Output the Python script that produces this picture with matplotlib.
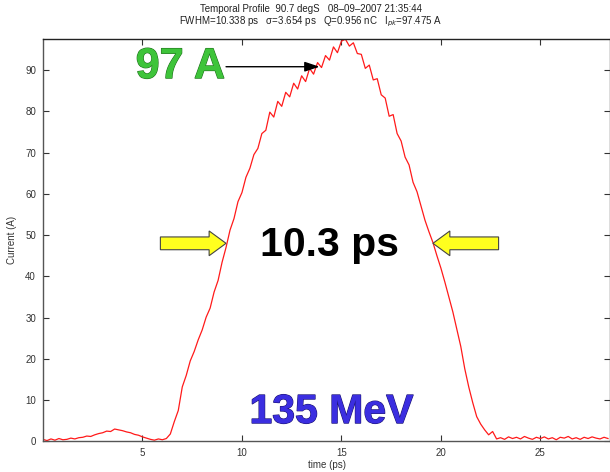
import numpy as np
import matplotlib
matplotlib.use("Agg")
import matplotlib.pyplot as plt
from matplotlib.patches import FancyArrow
import matplotlib.patheffects as pe

plt.rcParams["font.family"] = ["Liberation Sans", "DejaVu Sans"]

RED = "#ff1a1a"
GREEN = "#3ec43a"
BLUE = "#3b2ee0"
YELLOW = "#ffff1e"
AXIS_GRAY = "#555555"

# bunch current sampled every 0.2 ps
DT = 0.2
current = [
    # 0.0 - 1.8 ps baseline
    0.5, 0.2, 0.6, 0.3, 0.7,
    0.4, 0.5, 0.8, 0.6, 0.9,
    # 2.0 - 5.0 ps pre-bunch bump
    1.0, 1.3, 1.2, 1.6, 1.9,
    2.1, 2.5, 2.4, 3.0, 2.8,
    2.6, 2.3, 2.1, 1.7, 1.5,
    1.1,
    # 5.2 - 6.2 ps
    0.8, 0.5, 0.3, 0.6, 0.4,
    0.7,
    # 6.4 - 22.8 ps main pulse
    1.8, 4.8, 7.5, 13.2, 16.0,
    19.5, 21.8, 24.6, 27.0, 30.1,
    32.3, 36.2, 39.0, 43.4, 47.0,
    51.2, 54.0, 58.1, 60.3, 64.0,
    66.2, 69.5, 71.0, 74.6, 75.4,
    79.8, 78.6, 82.4, 81.2, 84.6,
    83.5, 86.8, 85.4, 88.6, 87.2,
    90.4, 89.0, 91.8, 90.6, 93.5,
    92.4, 95.6, 94.2, 97.0, 97.475,
    95.8, 96.6, 94.0, 93.8, 90.4,
    91.2, 87.6, 87.9, 84.0, 83.2,
    78.8, 79.2, 74.6, 72.8, 68.9,
    67.0, 62.8, 60.5, 57.0, 53.6,
    50.8, 48.2, 45.0, 42.0, 38.6,
    35.0, 31.4, 27.2, 23.0, 17.6,
    13.2, 9.4, 6.0, 4.2, 2.8,
    1.6, 2.4, 0.6,
    # 23.0 - 28.4 ps tail
    0.9, 0.5, 1.1, 0.7, 1.0,
    0.6, 1.2, 0.8, 0.5, 1.0,
    0.7, 1.1, 0.6, 0.9, 0.4,
    1.0, 0.8, 1.2, 0.6, 0.9,
    0.5, 1.0, 0.7, 1.1, 0.8,
    0.6, 1.0, 0.7,
]
time_ps = np.arange(len(current)) * DT

x_ticks = [5, 10, 15, 20, 25]
y_ticks = [0, 10, 20, 30, 40, 50, 60, 70, 80, 90]

peak_label = "97 A"
fwhm_label = "10.3 ps"
energy_label = "135 MeV"
fwhm_left, fwhm_right = 9.2, 19.6
half_max = 48.0

title = ("Temporal Profile  90.7 degS   08\u201309\u20132007 21:35:44\n"
         "FWHM=10.338 ps   \u03c3=3.654 ps   Q=0.956 nC   I$_{pk}$=97.475 A")

fig = plt.figure(figsize=(6.10, 4.72), dpi=100, facecolor="white")
ax = fig.add_axes([0.0705, 0.0648, 0.9295, 0.8522])

ax.plot(time_ps, current, color=RED, lw=0.9)
ax.set_xlim(0, 28.5)
ax.set_ylim(0, 97.475)
ax.set_xticks(x_ticks)
ax.set_yticks(y_ticks)
ax.tick_params(direction="in", length=4, width=0.8, labelsize=7,
               colors="#333333", top=True, right=True, pad=5)
for side in ["left", "bottom", "right"]:
    ax.spines[side].set_color(AXIS_GRAY)
    ax.spines[side].set_linewidth(1.0)
ax.spines["top"].set_color("#222222")
ax.spines["top"].set_linewidth(1.0)

ax.set_xlabel("time (ps)", fontsize=7, color="#333333", labelpad=1)
ax.set_ylabel("Current (A)", fontsize=7, color="#333333", labelpad=6)
fig.text(0.51, 0.992, title, ha="center", va="top", fontsize=7,
         color="#222222", linespacing=1.1)

# peak marker
ax.text(6.9, 90.7, peak_label, fontsize=31, fontweight="bold", color=GREEN,
        ha="center", va="center",
        path_effects=[pe.withStroke(linewidth=0.8, foreground="#1f6e1c")])
ax.annotate("", xy=(13.9, 90.8), xytext=(9.2, 90.8),
            arrowprops=dict(arrowstyle="-|>,head_length=0.9,head_width=0.3",
                            color="black", lw=1.0, shrinkA=0, shrinkB=0))

# FWHM arrows and label
for x0, x1 in [(5.9, fwhm_left), (22.9, fwhm_right)]:
    arrow = FancyArrow(x0, half_max, x1 - x0, 0, width=3.1,
                       head_width=6.0, head_length=0.85,
                       length_includes_head=True, facecolor=YELLOW,
                       edgecolor="#444444", lw=0.8, zorder=4)
    ax.add_patch(arrow)
ax.text(14.4, 47.5, fwhm_label, fontsize=29.5, fontweight="bold", color="black",
        ha="center", va="center")

ax.text(14.5, 7.1, energy_label, fontsize=29.5, fontweight="bold", color=BLUE,
        ha="center", va="center",
        path_effects=[pe.withStroke(linewidth=0.8, foreground="#1c1470")])

fig.savefig("out.png", dpi=100, facecolor="white")
